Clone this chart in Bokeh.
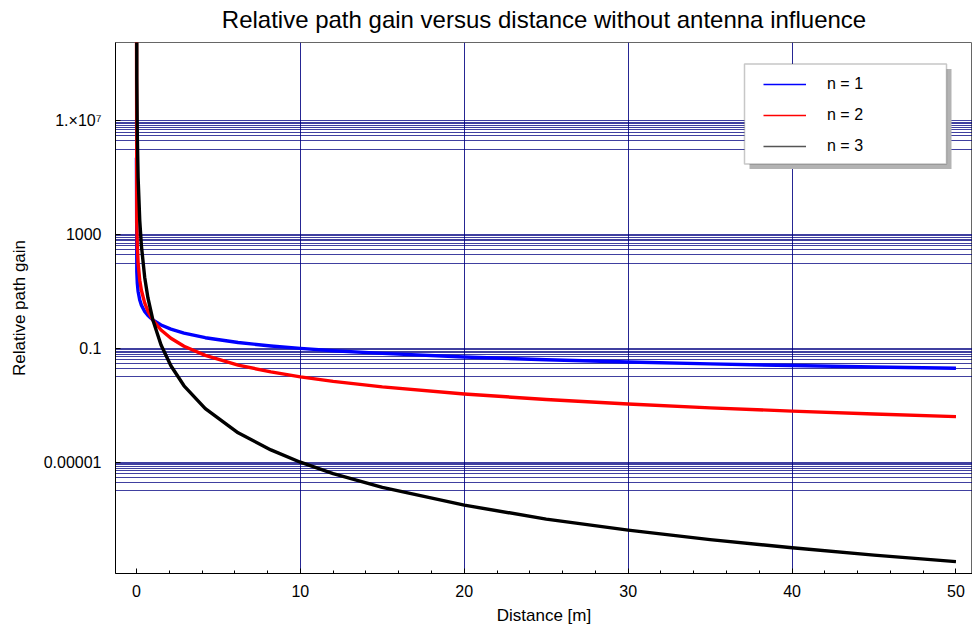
from bokeh.plotting import figure
from bokeh.models import (FixedTicker, CustomJSTickFormatter, Legend, LegendItem,
                          BoxAnnotation, Range1d, Title)
from bokeh.embed import file_html
from bokeh.resources import INLINE

# ---- data ----
distance = [0.000002, 0.02, 0.05, 0.1, 0.2, 0.3, 0.5, 0.7, 1.0, 1.5, 2.1, 2.9,
            4.2, 6.2, 8.2, 10, 12, 15, 20, 25, 30, 35, 40, 45, 50]
gain_n1 = [500000, 50, 20, 10, 5, 3.33, 2, 1.43, 1, 0.667, 0.476, 0.345,
           0.238, 0.161, 0.122, 0.1, 0.0833, 0.0667, 0.05, 0.04, 0.0333, 0.0286,
           0.025, 0.0222, 0.02]
gain_n2 = [2.5e11, 2500, 400, 100, 25, 11.1, 4, 2.04, 1, 0.444, 0.227, 0.119,
           0.0567, 0.026, 0.0149, 0.01, 0.00694, 0.00444, 0.0025, 0.0016, 0.00111,
           0.000816, 0.000625, 0.000494, 0.0004]
gain_n3 = [3e28, 3.1e8, 3.2e6, 1e5, 3125, 412, 32, 5.95, 1, 0.132, 0.0246, 0.00486,
           0.000766, 0.000108, 2.7e-5, 1e-5, 4.0e-6, 1.3e-6, 3.1e-7, 1.0e-7, 4.1e-8,
           1.9e-8, 9.8e-9, 5.4e-9, 3.2e-9]
series_labels = ["n = 1", "n = 2", "n = 3"]

x_ticks = [0, 10, 20, 30, 40, 50]
x_minor = [2, 4, 6, 8, 12, 14, 16, 18, 22, 24, 26, 28, 32, 34, 36, 38, 42, 44, 46, 48]
x_grid = [10, 20, 30, 40]
y_ticks = [1e-5, 0.1, 1e3, 1e7]
y_tick_labels = ["0.00001", "0.1", "1000", "1.\u00d710\u2077"]
y_grid = [t * k / 10 for t in y_ticks for k in range(1, 11)]
title_text = "Relative path gain versus distance without antenna influence"

FONT = "Liberation Sans"
NAVY = "#000080"

p = figure(width=972, height=628, y_axis_type="log",
           x_range=Range1d(-1.28, 51.01), y_range=Range1d(10 ** -8.912, 10 ** 9.754),
           output_backend="svg", toolbar_location=None,
           min_border_left=115, min_border_right=0, min_border_top=42, min_border_bottom=55)

p.outline_line_color = "#666666"
p.outline_line_width = 1

# title: a small blank spacer next to the frame, then the real title above it
spacer = Title(text=" ", text_font_size="1px", standoff=4)
main_title = Title(text=title_text, align="center", standoff=6,
                   text_font=FONT, text_font_size="24px", text_font_style="normal",
                   text_color="black")
p.add_layout(spacer, "above")
p.add_layout(main_title, "above")

# grids
p.xgrid.ticker = FixedTicker(ticks=x_grid)
p.xgrid.grid_line_color = NAVY
p.xgrid.grid_line_width = 1
p.xgrid.grid_line_alpha = 0.85
p.ygrid.ticker = FixedTicker(ticks=y_grid)
p.ygrid.grid_line_color = NAVY
p.ygrid.grid_line_width = 1
p.ygrid.grid_line_alpha = 0.75

# axes
xa = p.xaxis[0]
xa.ticker = FixedTicker(ticks=x_ticks, minor_ticks=x_minor)
xa.axis_label = "Distance [m]"
ya = p.yaxis[0]
ya.ticker = FixedTicker(ticks=y_ticks, minor_ticks=[])
ya.formatter = CustomJSTickFormatter(args=dict(vals=y_ticks, labels=y_tick_labels), code="""
    for (let i = 0; i < vals.length; i++) {
        if (Math.abs(Math.log10(vals[i]) - Math.log10(tick)) < 1e-6) return labels[i];
    }
    return "";
""")
ya.axis_label = "Relative path gain"
for ax in (xa, ya):
    ax.axis_line_color = "black"
    ax.axis_line_width = 1
    ax.major_tick_in = 5
    ax.major_tick_out = 0
    ax.minor_tick_in = 3
    ax.minor_tick_out = 0
    ax.major_tick_line_color = "black"
    ax.minor_tick_line_color = "black"
    ax.major_label_text_font = FONT
    ax.major_label_text_font_size = "16px"
    ax.major_label_text_color = "black"
    ax.axis_label_text_font = FONT
    ax.axis_label_text_font_size = "17px"
    ax.axis_label_text_font_style = "normal"
    ax.axis_label_text_color = "black"
xa.major_label_standoff = 11
xa.axis_label_standoff = 6
ya.major_label_standoff = 14
ya.axis_label_standoff = 12

colors = ["#0000ff", "#ff0000", "#000000"]
legend_colors = ["#0000ff", "#ff0000", "#555555"]
gains = [gain_n1, gain_n2, gain_n3]

# thin copies used only for the legend samples (hidden under the thick curves)
leg_renderers = [p.line(distance, g, line_color=c, line_width=1.5)
                 for g, c in zip(gains, legend_colors)]
# curves
for g, c in zip(gains, colors):
    p.line(distance, g, line_color=c, line_width=3.4, line_join="round")

shadow = BoxAnnotation(left=634, right=836, bottom=404.5, top=504.5,
                       left_units="screen", right_units="screen",
                       bottom_units="screen", top_units="screen",
                       fill_color="#b3b3b3", fill_alpha=1, line_color=None)
box = BoxAnnotation(left=629, right=831, bottom=409.5, top=509.5,
                    left_units="screen", right_units="screen",
                    bottom_units="screen", top_units="screen",
                    fill_color="white", fill_alpha=1, line_color="#444444", line_width=1.5)
p.add_layout(shadow)
p.add_layout(box)

legend = Legend(items=[LegendItem(label=l, renderers=[r]) for l, r in zip(series_labels, leg_renderers)],
                location=(648, 417), padding=0, margin=0, spacing=11,
                glyph_width=43, glyph_height=20, label_height=20, label_standoff=21,
                border_line_alpha=0, background_fill_alpha=0,
                label_text_font=FONT, label_text_font_size="16px", label_text_color="black")
p.add_layout(legend)

open("out.html", "w").write(file_html(p, INLINE))
